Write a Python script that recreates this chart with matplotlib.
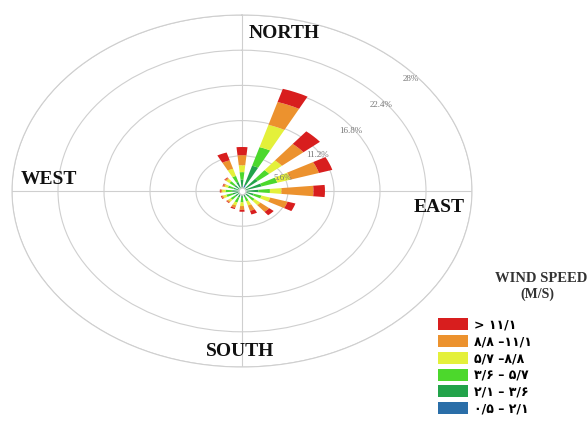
import matplotlib
matplotlib.use("Agg")
from matplotlib import pyplot as plt
import numpy as np

# wind directions (16 sectors, clockwise from north)
directions = ["N", "NNE", "NE", "ENE", "E", "ESE", "SE", "SSE",
              "S", "SSW", "SW", "WSW", "W", "WNW", "NW", "NNW"]

# frequency (%) per speed class and direction
speed_05_21 = [0.3, 1.0, 0.5, 0.5, 0.5, 0.4, 0.4, 0.3, 0.3, 0.3, 0.3, 0.3, 0.3, 0.3, 0.3, 0.3]
speed_21_36 = [1.5, 3.2, 2.0, 2.0, 1.5, 1.1, 0.8, 0.7, 0.8, 0.8, 0.8, 0.9, 0.9, 0.8, 0.9, 1.2]
speed_36_57 = [1.2, 3.1, 1.8, 2.0, 1.4, 1.0, 0.8, 0.7, 0.7, 0.8, 0.7, 0.8, 0.8, 0.7, 0.8, 1.0]
speed_57_88 = [1.1, 3.7, 2.0, 1.7, 1.4, 1.1, 0.9, 0.7, 0.6, 0.5, 0.4, 0.4, 0.4, 0.4, 0.5, 1.2]
speed_88_111 = [1.6, 3.8, 3.4, 3.6, 3.9, 2.2, 1.4, 0.9, 0.6, 0.4, 0.2, 0.2, 0.2, 0.2, 0.2, 1.4]
speed_111 = [1.3, 2.2, 2.6, 1.7, 1.4, 1.0, 0.7, 0.6, 0.3, 0.2, 0.1, 0.1, 0.1, 0.1, 0.1, 1.3]

speed_labels = ["۰/۵ – ۲/۱", "۲/۱ – ۳/۶", "۳/۶ – ۵/۷", "۵/۷ –۸/۸", "۸/۸ –۱۱/۱", "> ۱۱/۱"]
colors = ["#2a6ea8", "#22a34a", "#4cd82c", "#e4f03a", "#ec922e", "#d81e1e"]

rings = [5.6, 11.2, 16.8, 22.4, 28]
ring_labels = ["5.6%", "11.2%", "16.8%", "22.4%", "28%"]

speeds = [speed_05_21, speed_21_36, speed_36_57, speed_57_88, speed_88_111, speed_111]

fig = plt.figure(figsize=(5.88, 4.26), dpi=100)
ax = fig.add_axes([12/588, 59/426, 460/588, 352/426], projection="polar")
ax.set_theta_zero_location("N")
ax.set_theta_direction(-1)

theta = np.deg2rad(np.arange(len(directions)) * 360.0 / len(directions))
width = np.deg2rad(11)

# stacked wedges
bottom = np.zeros(len(directions))
bars = []
for vals, col, lab in zip(speeds, colors, speed_labels):
    b = ax.bar(theta, vals, width=width, bottom=bottom, color=col,
               edgecolor="none", label=lab, zorder=3)
    bars.append(b)
    bottom = bottom + np.array(vals)

ax.plot([0], [0], "o", ms=5, mfc="white", mec="#cccccc", zorder=5)

ax.set_ylim(0, 28)
ax.set_aspect("auto")
ax.set_rticks(rings)
ax.set_yticklabels([])
ax.set_thetagrids([0, 90, 180, 270], labels=["", "", "", ""])
ax.grid(True, color="#cfcfcf", lw=0.8)
ax.spines["polar"].set_color("#cfcfcf")
ax.spines["polar"].set_linewidth(0.8)

# ring labels
label_theta = [67, 58, 54, 51, 49]
for r, t, txt in zip(rings, label_theta, ring_labels):
    ax.text(np.deg2rad(t), r * 0.97, txt, fontsize=6.5, color="#777777",
            family="Liberation Serif", ha="center", va="center", zorder=6)

# compass names
serif = dict(family="Liberation Serif", weight="bold", fontsize=14, color="#111111")
fig.text(284/588, 1 - 33/426, "NORTH", ha="center", va="center", **serif)
fig.text(49/588, 1 - 180/426, "WEST", ha="center", va="center", **serif)
fig.text(439/588, 1 - 208/426, "EAST", ha="center", va="center", **serif)
fig.text(240/588, 1 - 351/426, "SOUTH", ha="center", va="center", **serif)

fig.text(541/588, 1 - 278/426, "WIND SPEED", ha="center", va="center",
         family="Liberation Serif", weight="bold", fontsize=10.5, color="#333333")
fig.text(537/588, 1 - 294/426, "(M/S)", ha="center", va="center",
         family="Liberation Serif", weight="bold", fontsize=10, color="#333333")

handles = [b.patches[0] for b in bars][::-1]
fig.legend(handles, speed_labels[::-1], loc="upper left",
           bbox_to_anchor=(432/588, 1 - 312/426), frameon=False,
           handlelength=2.4, handleheight=1.1, labelspacing=0.28,
           handletextpad=0.5, borderpad=0,
           prop=dict(family="DejaVu Sans", weight="bold", size=9))

fig.savefig("out.png", dpi=100)
